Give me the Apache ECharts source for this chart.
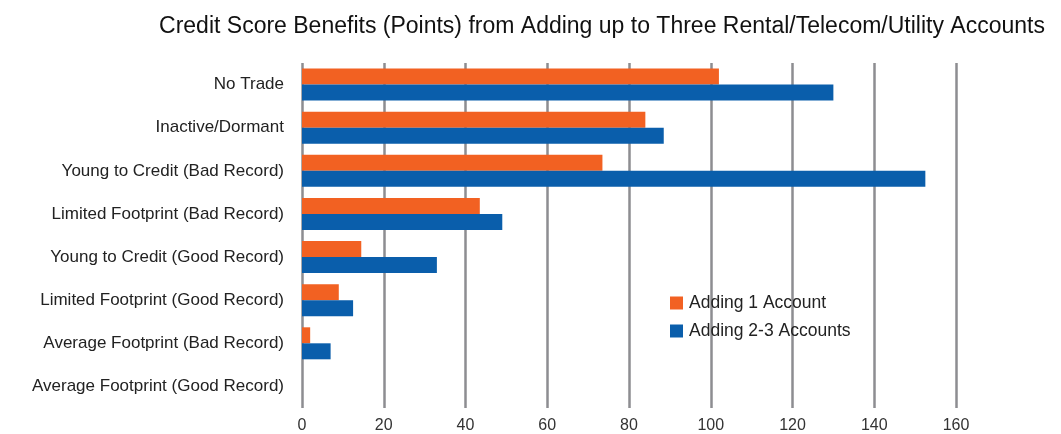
<!DOCTYPE html>
<html><head><meta charset="utf-8">
<script src="https://cdn.jsdelivr.net/npm/echarts@6/dist/echarts.min.js"></script>
<style>html,body{margin:0;padding:0;background:#fff}#c{width:1061px;height:434px}</style>
</head><body><div id="c"></div>
<script>
const categories = ["No Trade","Inactive/Dormant","Young to Credit (Bad Record)","Limited Footprint (Bad Record)","Young to Credit (Good Record)","Limited Footprint (Good Record)","Average Footprint (Bad Record)","Average Footprint (Good Record)"];
const seriesNames = ["Adding 1 Account","Adding 2-3 Accounts"];
const adding1 = [102, 84, 73.5, 43.5, 14.5, 9, 2, 0];
const adding23 = [130, 88.5, 152.5, 49, 33, 12.5, 7, 0];
const xTicks = [0,20,40,60,80,100,120,140,160];

const chart = echarts.init(document.getElementById('c'), null, {renderer:'canvas'});
const font = '"Liberation Sans", Arial, sans-serif';
chart.setOption({
  animation:false,
  title:{text:"Credit Score Benefits (Points) from Adding up to Three Rental/Telecom/Utility Accounts",
    left:597, top:10, textAlign:'center',
    textStyle:{fontFamily:font,fontSize:23,fontWeight:'normal',color:'#111'}},
  legend:{orient:'vertical', left:665, top:289, itemWidth:13, itemHeight:13, itemGap:10,
    icon:'rect', data:seriesNames,
    textStyle:{fontFamily:font,fontSize:17.5,color:'#222',padding:[0,0,0,1]}},
  grid:{left:302, right:105, top:63, bottom:21, containLabel:false},
  xAxis:{type:'value', min:xTicks[0], max:xTicks[xTicks.length-1], interval:20,
    axisLine:{show:false}, axisTick:{show:false},
    axisLabel:{fontFamily:font,fontSize:16,color:'#333',margin:10},
    splitLine:{show:true,lineStyle:{color:'#8d8d91',width:2.5}}},
  yAxis:{type:'category', data:categories, inverse:true,
    axisLine:{show:false}, axisTick:{show:false},
    axisLabel:{fontFamily:font,fontSize:17,color:'#222',margin:18}},
  series:[
    {name:seriesNames[0], type:'bar', data:adding1, barWidth:16, barGap:'0%', itemStyle:{color:'#f26122'}},
    {name:seriesNames[1], type:'bar', data:adding23, barWidth:16, barGap:'0%', itemStyle:{color:'#0a5eab'}}
  ]
});
</script></body></html>
